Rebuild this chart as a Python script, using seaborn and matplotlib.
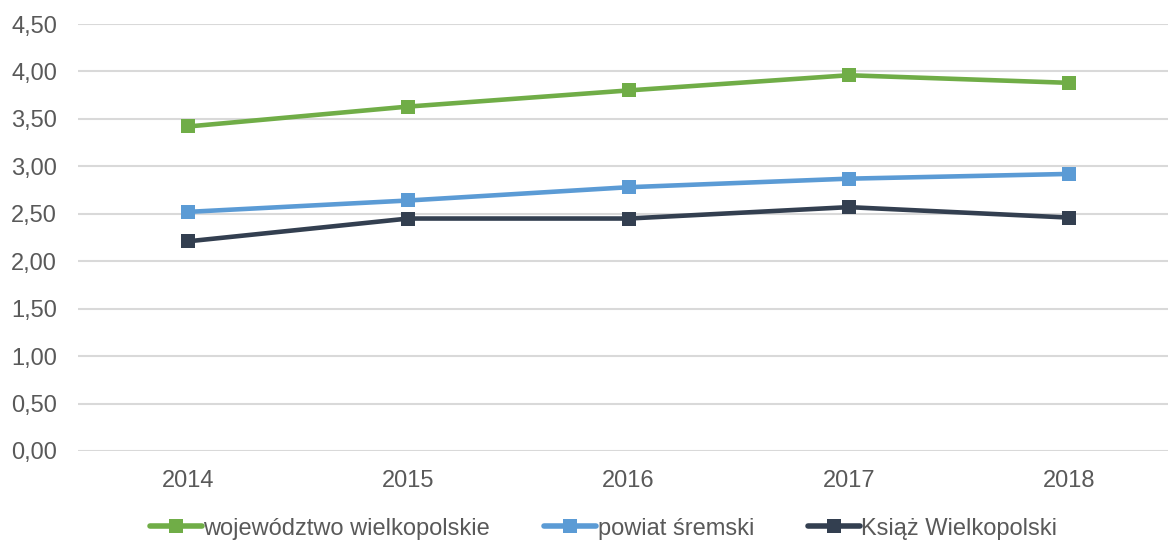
import pandas as pd
import matplotlib.pyplot as plt
import seaborn as sns

# dane
lata = ['2014', '2015', '2016', '2017', '2018']
wojewodztwo = [3.42, 3.63, 3.80, 3.96, 3.88]
powiat = [2.52, 2.64, 2.78, 2.87, 2.92]
ksiaz = [2.21, 2.45, 2.45, 2.57, 2.46]

serie = ['województwo wielkopolskie', 'powiat śremski', 'Książ Wielkopolski']
kolory = ['#70AD47', '#5B9BD5', '#333F50']

df = pd.DataFrame({
    'Rok': lata * 3,
    'Wartosc': wojewodztwo + powiat + ksiaz,
    'Seria': [serie[0]] * 5 + [serie[1]] * 5 + [serie[2]] * 5,
})
df['x'] = df['Rok'].map({r: i for i, r in enumerate(lata)})

sns.set_style('white')
plt.rcParams['font.family'] = ['Liberation Sans', 'DejaVu Sans']

fig = plt.figure(figsize=(11.68, 5.42), dpi=100)
ax = fig.add_axes([0.0668, 0.1679, 0.9332, 0.7878])

sns.lineplot(data=df, x='x', y='Wartosc', hue='Seria', hue_order=serie,
             palette=kolory, marker='s', markersize=10.5, markeredgewidth=0,
             linewidth=3.3, ax=ax, legend=False)

ax.set_ylim(0, 4.5)
ax.set_xlim(-0.5, 4.45)
ax.set_yticks([i * 0.5 for i in range(10)])
ax.set_yticklabels([f'{i * 0.5:.2f}'.replace('.', ',') for i in range(10)])
ax.set_xticks(range(5))
ax.set_xticklabels(lata)
ax.yaxis.grid(True, color='#D9D9D9', linewidth=1.5)
ax.set_axisbelow(True)
for s in ax.spines.values():
    s.set_visible(False)
ax.tick_params(axis='both', length=0, labelsize=17, labelcolor='#595959')
ax.tick_params(axis='y', pad=15)
ax.tick_params(axis='x', pad=14)
ax.set_xlabel('')
ax.set_ylabel('')

uchwyty = [plt.Line2D([], [], color=c, marker='s', markersize=10.5, markeredgewidth=0, linewidth=4)
           for c in kolory]
fig.legend(uchwyty, serie, loc='lower center', bbox_to_anchor=(0.517, -0.035), ncol=3,
           frameon=False, fontsize=17, labelcolor='#595959', handlelength=2.2,
           handletextpad=0.05, columnspacing=2.3)

fig.savefig('out.png', dpi=100)
